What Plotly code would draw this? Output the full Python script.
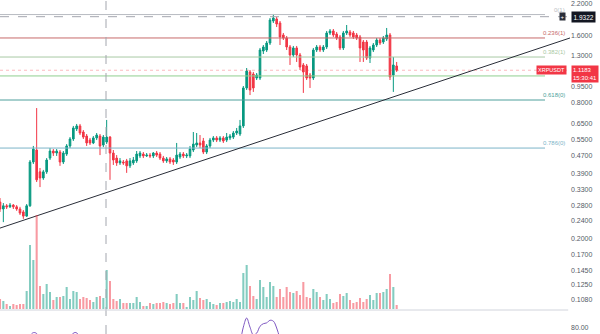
import math
import plotly.graph_objects as go

# ---------------- data ----------------
opens = [0.291,0.271,0.280,0.277,0.282,0.277,0.271,0.263,0.252,0.280,
         0.438,0.495,0.396,0.372,0.396,0.456,0.490,0.480,0.485,0.438,
         0.475,0.516,0.554,0.614,0.633,0.595,0.571,0.548,0.532,0.560,
         0.571,0.521,0.537,0.565,0.480,0.456,0.434,0.438,0.443,0.421,
         0.434,0.443,0.466,0.475,0.466,0.470,0.466,0.480,0.475,0.456,
         0.443,0.452,0.447,0.438,0.461,0.475,0.466,0.466,0.495,0.521,
         0.532,0.543,0.485,0.516,0.548,0.560,0.548,0.560,0.548,0.560,
         0.565,0.589,0.583,0.633,0.933,1.099,1.076,1.033,1.033,1.361,
         1.375,1.477,1.849,1.888,1.812,1.603,1.555,1.418,1.307,1.404,
         1.307,1.180,1.168,1.065,1.033,1.375,1.418,1.375,1.418,1.636,
         1.670,1.619,1.571,1.404,1.636,1.653,1.636,1.603,1.571,1.492,
         1.492,1.267,1.375,1.447,1.523,1.492,1.539,1.603,1.065,1.168]
closes = [0.271,0.280,0.277,0.282,0.277,0.271,0.260,0.252,0.280,0.438,
          0.500,0.365,0.372,0.396,0.447,0.490,0.480,0.490,0.438,0.480,
          0.516,0.554,0.620,0.633,0.589,0.565,0.532,0.532,0.560,0.577,
          0.516,0.565,0.565,0.480,0.447,0.434,0.443,0.434,0.421,0.443,
          0.447,0.475,0.480,0.466,0.470,0.466,0.480,0.470,0.456,0.443,
          0.452,0.438,0.438,0.470,0.475,0.466,0.470,0.500,0.526,0.532,
          0.521,0.485,0.516,0.548,0.560,0.548,0.560,0.543,0.565,0.571,
          0.589,0.601,0.633,0.933,1.110,0.914,0.933,1.065,1.375,1.418,
          1.477,1.868,1.907,1.793,1.571,1.555,1.418,1.307,1.404,1.307,
          1.156,1.099,1.033,1.033,1.375,1.418,1.375,1.418,1.636,1.670,
          1.603,1.555,1.404,1.636,1.670,1.603,1.571,1.555,1.404,1.375,
          1.267,1.404,1.447,1.523,1.477,1.555,1.603,1.044,1.180,1.1183]
highs = [0.303,0.288,0.285,0.288,0.285,0.282,0.277,0.268,0.285,0.447,
         0.516,0.760,0.412,0.404,0.456,0.505,0.500,0.500,0.495,0.490,
         0.526,0.565,0.633,0.646,0.646,0.607,0.583,0.560,0.571,0.589,
         0.583,0.577,0.673,0.571,0.495,0.470,0.456,0.447,0.452,0.456,
         0.461,0.490,0.490,0.485,0.480,0.480,0.485,0.490,0.485,0.466,
         0.461,0.461,0.456,0.532,0.485,0.485,0.480,0.516,0.595,0.589,
         0.577,0.560,0.526,0.560,0.571,0.571,0.571,0.571,0.589,0.583,
         0.601,0.620,0.673,0.952,1.144,1.121,1.099,1.087,1.404,1.447,
         1.508,1.907,1.987,1.927,1.849,1.636,1.587,1.447,1.433,1.433,
         1.334,1.204,1.192,1.087,1.404,1.447,1.447,1.447,1.670,1.704,
         1.704,1.653,1.603,1.670,1.775,1.687,1.670,1.636,1.603,1.523,
         1.523,1.433,1.477,1.555,1.555,1.587,1.722,1.636,1.280,1.217]
lows = [0.263,0.237,0.271,0.274,0.271,0.266,0.255,0.245,0.250,0.277,
        0.429,0.357,0.339,0.365,0.388,0.447,0.466,0.466,0.421,0.429,
        0.466,0.505,0.543,0.601,0.577,0.554,0.516,0.521,0.526,0.548,
        0.470,0.510,0.526,0.365,0.425,0.421,0.425,0.425,0.392,0.412,
        0.425,0.434,0.456,0.456,0.461,0.456,0.456,0.461,0.447,0.434,
        0.434,0.429,0.425,0.429,0.452,0.456,0.456,0.456,0.485,0.510,
        0.505,0.475,0.475,0.505,0.537,0.537,0.537,0.532,0.537,0.548,
        0.554,0.577,0.571,0.620,0.914,0.868,0.896,1.012,1.012,1.320,
        1.347,1.447,1.812,1.739,1.447,1.523,1.375,1.180,1.280,1.217,
        1.121,0.887,1.012,0.933,1.012,1.347,1.347,1.347,1.389,1.603,
        1.571,1.523,1.375,1.375,1.603,1.571,1.539,1.523,1.217,1.217,
        1.242,1.204,1.347,1.418,1.447,1.462,1.508,1.012,0.896,1.099]
volumes_m = [10,8,5,3,5,4,5,5,18,64, 49,94,23,15,25,17,9,12,12,13,
             22,10,18,17,10,12,11,9,7,12, 13,11,39,28,10,8,10,6,6,6,
             6,12,7,3,3,6,5,6,6,7, 6,5,6,15,6,6,2,12,9,18,
             11,9,10,7,5,4,6,6,7,8, 7,10,7,36,44,23,13,10,29,22,
             12,27,23,12,20,12,22,17,16,18, 14,27,12,11,20,17,12,9,15,10,
             6,7,15,13,16,9,6,7,11,7, 10,14,9,16,16,17,20,35,22,4]

# RSI pane: only the parts that reach the visible top band
rsi_x = [8, 9, 10, 11, 12, None, 21, 22, 23, 24, None,
         72, 73, 74, 75, 76, 77, 78, 79, 80, 81, 82, 83, 84]
rsi_y = [72, 75, 76.8, 76.3, 72, None, 73, 76.5, 76.7, 73, None,
         70, 80, 85.3, 80, 75.5, 76.5, 80.5, 82, 82.5, 84, 83.5, 79.5, 73]

fib_prices = [1.975, 1.555, 1.280, 1.055, 0.825, 0.505]
fib_labels = ["0(1)", "0.236(1)", "0.382(1)", "", "0.618(0)", "0.786(0)"]
fib_colors = ["#b8bbc2", "#c76a6a", "#a9c9a4", "#8fcf8f", "#4e9f9c", "#7db4c8"]

trend_x = [0, 171]
trend_y = [0.223, 1.555]

last_price = 1.1183
cross_price = 1.9322
cross_index = 31.8

price_ticks = [2.2, 1.6, 1.3, 0.95, 0.8, 0.65, 0.55, 0.47, 0.39, 0.33,
               0.28, 0.24, 0.2, 0.17, 0.145, 0.125, 0.108]

# ---------------- figure ----------------
UP = "#089981"
DN = "#f23645"
UP_V = "rgba(8,153,129,0.5)"
DN_V = "rgba(242,54,69,0.5)"
X_MAX = 171
FIB_END = 163.5

idx = list(range(len(closes)))
fig = go.Figure()

for p, c in zip(fib_prices, fib_colors):
    fig.add_trace(go.Scatter(x=[0, FIB_END], y=[p, p], mode="lines",
                             line=dict(color=c, width=1), hoverinfo="skip"))

# last-price dotted line and crosshair horizontal
fig.add_trace(go.Scatter(x=[0, X_MAX], y=[last_price, last_price], mode="lines",
                         line=dict(color="rgba(242,54,69,0.35)", width=1, dash="dot"),
                         hoverinfo="skip"))
fig.add_trace(go.Scatter(x=[0, X_MAX], y=[cross_price, cross_price], mode="lines",
                         line=dict(color="#a3a6ae", width=1, dash="dash"),
                         hoverinfo="skip"))

vol_colors = [UP_V if c >= o else DN_V for o, c in zip(opens, closes)]
fig.add_trace(go.Bar(x=idx, y=volumes_m, marker=dict(color=vol_colors, line=dict(width=0)),
                     width=0.62, yaxis="y2", hoverinfo="skip"))

fig.add_trace(go.Candlestick(x=idx, open=opens, high=highs, low=lows, close=closes,
                             increasing=dict(line=dict(color=UP, width=1), fillcolor=UP),
                             decreasing=dict(line=dict(color=DN, width=1), fillcolor=DN),
                             whiskerwidth=0, hoverinfo="skip"))

fig.add_trace(go.Scatter(x=trend_x, y=trend_y, mode="lines",
                         line=dict(color="#2a2e39", width=1), hoverinfo="skip"))

fig.add_trace(go.Scatter(x=rsi_x, y=rsi_y, mode="lines", yaxis="y3",
                         line=dict(color="#7e57c2", width=1, shape="spline"),
                         connectgaps=False, hoverinfo="skip"))

MAIN_BOTTOM = 1 - 309 / 334
SEP = 1 - 310 / 334
RIGHT = 0.95

shapes = [
    dict(type="line", xref="x", yref="paper", x0=cross_index, x1=cross_index, y0=0, y1=1,
         line=dict(color="#a3a6ae", width=1, dash="dash")),
    dict(type="line", xref="paper", yref="paper", x0=0, x1=RIGHT - 0.003, y0=SEP, y1=SEP,
         line=dict(color="#d1d4dc", width=1)),
]

annotations = []
for p, lab, c in zip(fib_prices, fib_labels, fib_colors):
    if lab:
        annotations.append(dict(x=0.945, xref="paper", y=math.log10(p), yref="y",
                                text=lab, showarrow=False, xanchor="right", yanchor="bottom",
                                font=dict(size=6, color=c, family="Liberation Sans")))
annotations.append(dict(x=0.945, xref="paper", y=math.log10(last_price), yref="y",
                        text="XRPUSDT", showarrow=False, xanchor="right", yanchor="middle",
                        bgcolor=DN, borderpad=1, font=dict(size=5.5, color="white", family="Liberation Sans")))
annotations.append(dict(x=0.952, xref="paper", y=math.log10(last_price), yref="y",
                        text="1.1183<br>15:30:41", showarrow=False, xanchor="left", yanchor="top",
                        yshift=5, bgcolor=DN, borderpad=1, align="left",
                        font=dict(size=6, color="white", family="Liberation Sans")))
annotations.append(dict(x=0.952, xref="paper", y=math.log10(cross_price), yref="y",
                        text="1.9322", showarrow=False, xanchor="left", yanchor="middle",
                        bgcolor="#131722", borderpad=1.5,
                        font=dict(size=6.5, color="white", family="Liberation Sans")))
annotations.append(dict(x=0.938, xref="paper", y=math.log10(cross_price), yref="y",
                        text="+", showarrow=False, xanchor="center", yanchor="middle",
                        bgcolor="#2a2e39", borderpad=0.5,
                        font=dict(size=6, color="white", family="Liberation Sans")))

fig.update_layout(
    width=600, height=334,
    margin=dict(l=0, r=0, t=0, b=0),
    paper_bgcolor="white", plot_bgcolor="white",
    showlegend=False,
    xaxis=dict(domain=[0, RIGHT], range=[0, X_MAX], visible=False,
               rangeslider=dict(visible=False), anchor="y"),
    yaxis=dict(domain=[MAIN_BOTTOM, 1], type="log",
               range=[math.log10(0.09757), math.log10(2.2917)],
               side="right", anchor="x", showgrid=False, zeroline=False, showline=False,
               ticks="", tickvals=price_ticks, ticktext=[f"{v:.4f}" for v in price_ticks],
               tickfont=dict(size=7, color="#555a66", family="Liberation Sans")),
    yaxis2=dict(overlaying="y", range=[0, 309], visible=False),
    yaxis3=dict(domain=[0, SEP], range=[76, 90], side="right", anchor="x",
                showgrid=False, zeroline=False, showline=False, ticks="",
                tickvals=[80], ticktext=["80.00"],
                tickfont=dict(size=7, color="#555a66", family="Liberation Sans")),
    shapes=shapes,
    annotations=annotations,
)

fig.write_html("out.html")
